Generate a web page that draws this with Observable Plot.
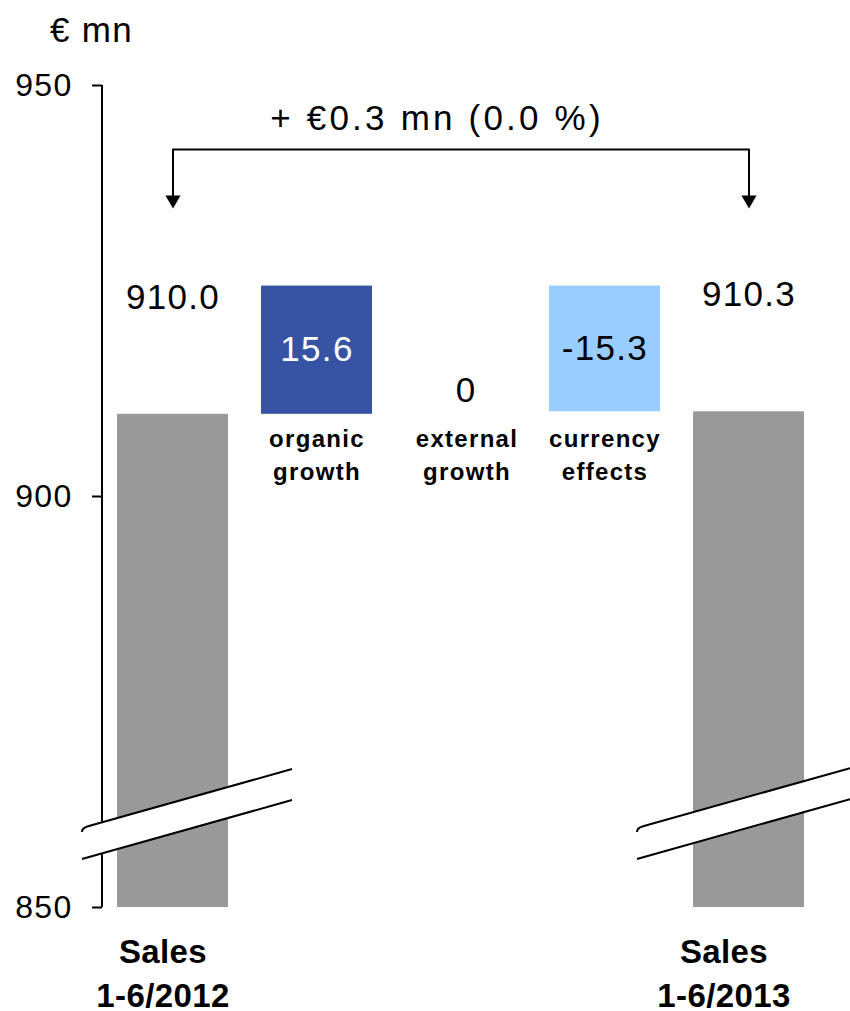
<!DOCTYPE html>
<html>
<head>
<meta charset="utf-8">
<script src="https://cdn.jsdelivr.net/npm/d3@7"></script>
<script src="https://cdn.jsdelivr.net/npm/@observablehq/plot@0.6"></script>
<style>
  body { margin: 0; background: #ffffff; }
  #chart svg text { letter-spacing: 1.3px; }
</style>
</head>
<body>
<div id="chart"></div>
<script>
// Sales bridge, first half 2012 to first half 2013 (€ mn)
const categories = ["Sales 1-6/2012", "organic growth", "external growth", "currency effects", "Sales 1-6/2013"];
const categoryLabels = ["Sales\n1-6/2012", "organic\ngrowth", "external\ngrowth", "currency\neffects", "Sales\n1-6/2013"];
const startValue = 910.0;
const changes = [15.6, 0, -15.3];
const endValue = 910.3;
const yTicks = [850, 900, 950];
const headline = "+ €0.3 mn (0.0 %)";
const unitLabel = "€ mn";
const barColors = ["#999999", "#3653a4", "#ffffff", "#99ccff", "#999999"];
const valueColors = ["#000000", "#ffffff", "#000000", "#000000", "#000000"];

// Waterfall rows: totals stand on the axis floor, changes float from the running total
const floor = yTicks[0];
const rows = [];
rows.push({cat: categories[0], label: categoryLabels[0], y1: floor, y2: startValue, value: startValue, kind: "total", color: barColors[0], text: valueColors[0]});
let running = startValue;
changes.forEach((c, i) => {
  rows.push({cat: categories[i + 1], label: categoryLabels[i + 1], y1: running, y2: running + c, value: c, kind: "change", color: barColors[i + 1], text: valueColors[i + 1]});
  running += c;
});
rows.push({cat: categories[4], label: categoryLabels[4], y1: floor, y2: endValue, value: endValue, kind: "total", color: barColors[4], text: valueColors[4]});

const totals = rows.filter(d => d.kind === "total");
const moves = rows.filter(d => d.kind === "change" && d.value !== 0);
const flat = rows.filter(d => d.kind === "change" && d.value === 0);

// Bracket between the two totals, with arrowheads pointing down at each total
const bracketLevel = 942.2;
const arrowLevel = 936.1;
const bracket = [
  {cat: categories[0], v: arrowLevel},
  {cat: categories[0], v: bracketLevel},
  {cat: categories[4], v: bracketLevel},
  {cat: categories[4], v: arrowLevel}
];
const arrowHeads = [
  {cat: categories[0], v: arrowLevel},
  {cat: categories[4], v: arrowLevel}
];

const paddingInner = 0.23;

// Vertical axis line along the left edge of the frame
function axisLine(index, scales, values, dimensions) {
  const g = d3.create("svg:g");
  g.append("line")
    .attr("x1", dimensions.marginLeft).attr("x2", dimensions.marginLeft)
    .attr("y1", scales.y(yTicks[2])).attr("y2", scales.y(yTicks[0]))
    .attr("stroke", "black").attr("stroke-width", 2);
  return g.node();
}

// Slanted white band with two rules marking the broken value axis
function axisBreak(cat, extendLeft, extendRight) {
  return (index, scales) => {
    const bw = typeof scales.x.bandwidth === "function"
      ? scales.x.bandwidth()
      : (scales.x(categories[1]) - scales.x(categories[0])) * (1 - paddingInner);
    const start = scales.x(cat);
    const x0 = start - extendLeft;
    const x1 = start + bw + extendRight;
    const base = scales.y(floor);
    const slope = 0.281;
    const gap = 31;
    const yA = base - 79;
    const yB = yA - slope * (x1 - x0);
    const g = d3.create("svg:g");
    g.append("path")
      .attr("d", `M${x0},${yA}L${x1},${yB}L${x1},${yB + gap}L${x0},${yA + gap}Z`)
      .attr("fill", "white");
    g.append("path")
      .attr("d", `M${x0},${yA + 4}Q${x0},${yA} ${x0 + 6},${yA - 1.7}L${x1},${yB}`)
      .attr("fill", "none").attr("stroke", "black").attr("stroke-width", 2);
    g.append("path")
      .attr("d", `M${x0},${yA + gap}L${x1},${yB + gap}`)
      .attr("fill", "none").attr("stroke", "black").attr("stroke-width", 2);
    return g.node();
  };
}

const bottomLabel = {y: floor, text: "label", lineAnchor: "top", dy: 25, fontSize: 33, fontWeight: "bold", lineHeight: 1.32, fill: "black"};
const middleLabel = {y: startValue, text: "label", lineAnchor: "top", dy: 10, fontSize: 24, fontWeight: "bold", lineHeight: 1.36, fill: "black"};

const chart = Plot.plot({
  width: 850,
  height: 1011,
  marginLeft: 102,
  marginRight: 31,
  marginTop: 85,
  marginBottom: 104,
  style: {fontFamily: "'Liberation Sans', Arial, sans-serif", background: "white", color: "black"},
  x: {domain: categories, paddingInner: paddingInner, paddingOuter: 0.102, axis: null},
  y: {domain: [850, 950]},
  marks: [
    Plot.barY(rows.filter(d => d.y1 !== d.y2), {x: "cat", y1: "y1", y2: "y2", fill: d => d.color}),
    axisLine,
    axisBreak(categories[0], 35, 64),
    axisBreak(categories[4], 56, 46),
    Plot.axisY(yTicks, {tickSize: 10, tickPadding: 20, fontSize: 32, strokeWidth: 2, label: null}),
    // bracket and arrowheads
    Plot.line(bracket, {x: "cat", y: "v", stroke: "black", strokeWidth: 2}),
    Plot.dot(arrowHeads, {x: "cat", y: "v", symbol: "triangle", r: 5.6, rotate: 180, fill: "black", stroke: "none"}),
    Plot.text([headline], {frameAnchor: "top", textAnchor: "middle", lineAnchor: "middle", dx: -24, dy: 33, fontSize: 35, fill: "black"}),
    Plot.text([unitLabel], {frameAnchor: "top-left", textAnchor: "middle", lineAnchor: "middle", dx: -11, dy: -55, fontSize: 35, fill: "black"}),
    // values of the totals, above their bars
    Plot.text(totals, {x: "cat", y: "y2", text: d => d.value.toFixed(1), dy: -117, fontSize: 35, fill: "black"}),
    // values of the changes, inside their bars
    Plot.text(moves, {x: "cat", y: d => (d.y1 + d.y2) / 2, text: d => d.value.toFixed(1), fontSize: 35, fill: d => d.text}),
    Plot.text(flat, {x: "cat", y: "y2", text: d => String(d.value), dx: 5, dy: 105, fontSize: 35, fill: "black"}),
    // category labels of the changes
    Plot.text(moves, {x: "cat", ...middleLabel}),
    Plot.text(flat, {x: "cat", dx: 6, ...middleLabel}),
    // category labels of the totals
    Plot.text(totals.slice(0, 1), {x: "cat", dx: -10, ...bottomLabel}),
    Plot.text(totals.slice(1), {x: "cat", dx: -25, ...bottomLabel})
  ]
});

// the headline is set a little wider, the bottom labels a little tighter
d3.select(chart).selectAll("text")
  .filter(function () { return this.textContent === headline; })
  .style("letter-spacing", "3.2px");
d3.select(chart).selectAll("text")
  .filter(function () { return this.textContent.startsWith("Sales"); })
  .style("letter-spacing", "0.4px");

document.getElementById("chart").appendChild(chart);
</script>
</body>
</html>
